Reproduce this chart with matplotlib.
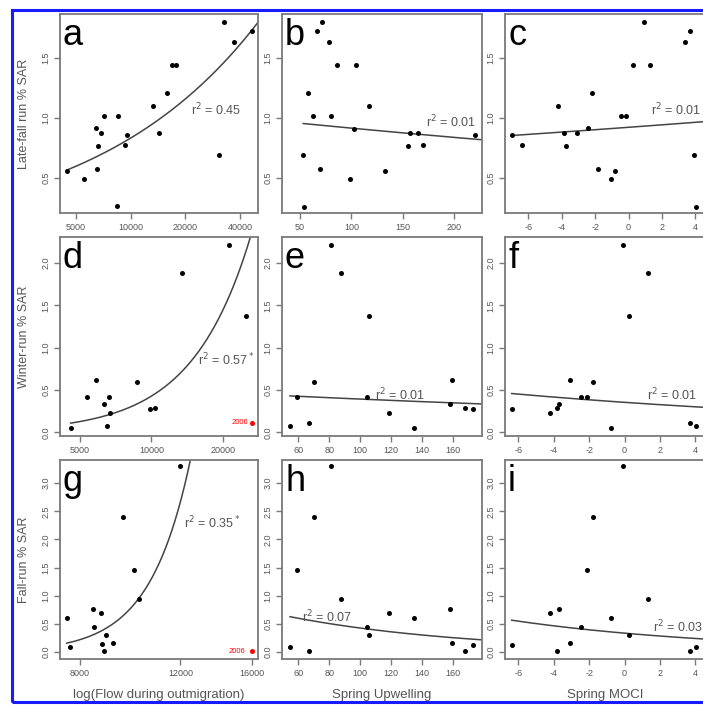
import numpy as np
import matplotlib
matplotlib.use("Agg")
import matplotlib.pyplot as plt
from matplotlib.patches import Rectangle

# ---- data ----
flow_a = [4460, 5530, 6420, 6500, 6630, 6920, 7100, 8370, 8540, 9340, 9540,
          13320, 14370, 15910, 16880, 17750, 30740, 32730, 37170, 46300]
sar_a = [0.56, 0.49, 0.92, 0.58, 0.77, 0.88, 1.02, 0.27, 1.02, 0.78, 0.86,
         1.10, 0.88, 1.21, 1.44, 1.44, 0.69, 1.80, 1.63, 1.725]
upw_b = [53.9, 53.2, 58.1, 63, 66.6, 71.4, 69.5, 78.6, 80.3, 86, 98.4,
         102.9, 104.2, 116.9, 132.8, 155.5, 157.2, 165.3, 170.2, 220.2]
sar_b = [0.26, 0.69, 1.21, 1.02, 1.725, 1.80, 0.58, 1.63, 1.02, 1.44, 0.49,
         0.91, 1.44, 1.10, 0.56, 0.77, 0.88, 0.88, 0.78, 0.86]
moci_c = [-7.0, -6.4, -4.24, -3.84, -3.74, -3.08, -2.4, -2.17, -1.81, -1.05,
          -0.79, -0.44, -0.14, 0.24, 0.92, 1.29, 3.4, 3.7, 3.94, 4.04]
sar_c = [0.86, 0.78, 1.10, 0.875, 0.77, 0.875, 0.915, 1.21, 0.58, 0.49,
         0.56, 1.02, 1.02, 1.44, 1.80, 1.44, 1.63, 1.725, 0.69, 0.26]

flow_d = [4560, 5370, 5830, 6280, 6600, 6490, 6700, 8660, 9900, 10400,
          13450, 21300, 25050]
sar_d = [0.05, 0.42, 0.615, 0.33, 0.42, 0.08, 0.23, 0.59, 0.28, 0.285,
         1.88, 2.22, 1.37]
upw_e = [54.6, 59, 67.1, 70.4, 81.2, 87.5, 104.5, 106, 118.5, 135.1,
         158.2, 159.5, 168, 173.3]
sar_e = [0.08, 0.42, 0.11, 0.59, 2.22, 1.88, 0.42, 1.37, 0.23, 0.05,
         0.33, 0.615, 0.285, 0.275]
moci_f = [-6.37, -4.19, -3.83, -3.68, -3.06, -2.46, -2.1, -1.76, -0.76,
          -0.08, 0.25, 1.31, 3.7, 4.04]
sar_f = [0.275, 0.23, 0.285, 0.33, 0.615, 0.42, 0.42, 0.59, 0.05, 2.22,
         1.37, 1.88, 0.11, 0.08]

flow_g = [7580, 7670, 8440, 8470, 8720, 8750, 8800, 8880, 9120, 9510,
          9930, 10160, 12000]
sar_g = [0.60, 0.10, 0.77, 0.44, 0.70, 0.14, 0.03, 0.31, 0.16, 2.40,
         1.46, 0.94, 3.30]
upw_h = upw_e
sar_h = [0.10, 1.46, 0.02, 2.40, 3.30, 0.94, 0.44, 0.31, 0.70, 0.60,
         0.77, 0.16, 0.03, 0.12]
moci_i = moci_f
sar_i = [0.13, 0.70, 0.03, 0.77, 0.16, 0.44, 1.46, 2.40, 0.60, 3.30,
         0.31, 0.94, 0.02, 0.10]

# 2006 outlier (red) in panels d and g
flow_2006_d, sar_2006_d = 26700, 0.11
flow_2006_g, sar_2006_g = 16000, 0.02

# fitted curves: y = exp(c0 + c1 * t), t = ln(x) for flow, x otherwise
fits = {
    "a": (-4.571, 0.4765, True), "b": (0.0006, -0.000877, False),
    "c": (-0.0796, 0.01101, False), "d": (-16.968, 1.75, True),
    "e": (-0.734, -0.002007, False), "f": (-1.038, -0.04045, False),
    "g": (-56.50, 6.12, True), "h": (0.0, -0.00846, False),
    "i": (-1.084, -0.0814, False),
}
r2_labels = {"a": "0.45", "b": "0.01", "c": "0.01", "d": "0.57$^*$",
             "e": "0.01", "f": "0.01", "g": "0.35$^*$", "h": "0.07", "i": "0.03"}

panels = {
    "a": (flow_a, sar_a), "b": (upw_b, sar_b), "c": (moci_c, sar_c),
    "d": (flow_d, sar_d), "e": (upw_e, sar_e), "f": (moci_f, sar_f),
    "g": (flow_g, sar_g), "h": (upw_h, sar_h), "i": (moci_i, sar_i),
}

# ---- layout (pixels) ----
W, H = 703, 705
cols = [(60, 258), (282, 482), (505, 706)]
rows = [(14, 213), (237, 436), (460, 659)]

xlims = {"a": (4092, 50200), "b": (32.5, 227.2), "c": (-7.40, 4.64),
         "d": (4112, 28230), "e": (49.4, 179), "f": (-6.75, 4.60),
         "g": (7378, 16410), "h": (49.4, 179), "i": (-6.75, 4.60)}
ylims = [(0.21, 1.867), (-0.044, 2.31), (-0.12, 3.41)]
xticks = {"a": [5000, 10000, 20000, 40000], "b": [50, 100, 150, 200],
          "c": [-6, -4, -2, 0, 2, 4], "d": [5000, 10000, 20000],
          "e": [60, 80, 100, 120, 140, 160], "f": [-6, -4, -2, 0, 2, 4],
          "g": [8000, 12000, 16000], "h": [60, 80, 100, 120, 140, 160],
          "i": [-6, -4, -2, 0, 2, 4]}
yticks = [[0.5, 1.0, 1.5], [0.0, 0.5, 1.0, 1.5, 2.0],
          [0.0, 0.5, 1.0, 1.5, 2.0, 2.5, 3.0]]
r2_pos = {"a": (0.79, 0.52), "b": (0.845, 0.457), "c": (0.85, 0.52),
          "d": (0.84, 0.38), "e": (0.59, 0.206), "f": (0.83, 0.206),
          "g": (0.77, 0.683), "h": (0.225, 0.21), "i": (0.86, 0.16)}
ylabels = ["Late-fall run % SAR", "Winter-run % SAR", "Fall-run % SAR"]
xlabels = ["log(Flow during outmigration)", "Spring Upwelling", "Spring MOCI"]

plt.rcParams["font.family"] = ["Liberation Sans", "DejaVu Sans"]
fig = plt.figure(figsize=(W / 100, H / 100), dpi=100)

frame = "#7a7a7a"
txt = "#555555"
letters = "abcdefghi"
for r in range(3):
    for c in range(3):
        key = letters[r * 3 + c]
        x0, x1 = cols[c]
        y0, y1 = rows[r]
        ax = fig.add_axes([x0 / W, (H - y1) / H, (x1 - x0) / W, (y1 - y0) / H])
        xs, ys = panels[key]
        logx = fits[key][2]
        if logx:
            ax.set_xscale("log")
        ax.scatter(xs, ys, s=13, color="black", zorder=3, linewidths=0)

        c0, c1, _ = fits[key]
        xx = np.linspace(min(xs), xlims[key][1], 300)
        t = np.log(xx) if logx else xx
        ax.plot(xx, np.exp(c0 + c1 * t), color="#444444", lw=1.1, zorder=2)

        if key == "d":
            ax.scatter([flow_2006_d], [sar_2006_d], s=13, color="red", linewidths=0, zorder=3)
            ax.text(flow_2006_d * 0.96, sar_2006_d, "2006", color="red",
                    fontsize=5.5, ha="right", va="center")
        if key == "g":
            ax.scatter([flow_2006_g], [sar_2006_g], s=13, color="red", linewidths=0, zorder=3)
            ax.text(flow_2006_g * 0.975, sar_2006_g, "2006", color="red",
                    fontsize=5.5, ha="right", va="center")

        ax.set_xlim(*xlims[key])
        ax.set_ylim(*ylims[r])
        ax.set_xticks(xticks[key])
        ax.set_xticklabels([str(v) for v in xticks[key]])
        ax.xaxis.set_minor_locator(matplotlib.ticker.NullLocator())
        ax.set_yticks(yticks[r])
        ax.set_yticklabels([f"{v:.1f}" for v in yticks[r]], rotation=90, va="center")
        ax.tick_params(length=4, width=1, color=frame, labelsize=6.5,
                       labelcolor=txt, pad=3)
        for sp in ax.spines.values():
            sp.set_color(frame)
            sp.set_linewidth(1.3)

        ax.text(0.015, 0.845, key, transform=ax.transAxes, fontsize=26,
                ha="left", va="baseline", color="black")
        ax.text(r2_pos[key][0], r2_pos[key][1], "r$^2$ = " + r2_labels[key],
                transform=ax.transAxes, fontsize=9, ha="center", va="center",
                color=txt)

        if c == 0:
            ax.set_ylabel(ylabels[r], fontsize=9, color=txt, labelpad=8)
        if r == 2:
            ax.set_xlabel(xlabels[c], fontsize=9.5, color=txt, labelpad=8)

# blue border of the screenshot
fig.patches.append(Rectangle((12 / W, (H - 702) / H), (712 - 12) / W, (702 - 10) / H,
                             transform=fig.transFigure, fill=False,
                             edgecolor="#1a1aff", lw=2.2))

fig.savefig("out.png", dpi=100)
